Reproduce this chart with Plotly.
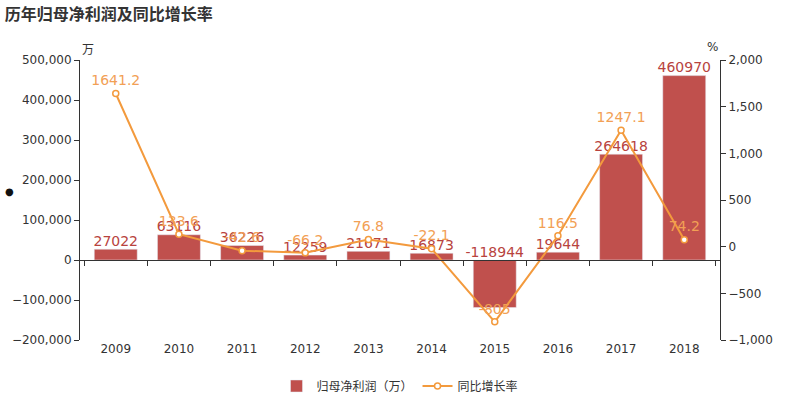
import plotly.graph_objects as go

years = ["2009", "2010", "2011", "2012", "2013", "2014", "2015", "2016", "2017", "2018"]
profit = [27022, 63116, 36226, 12259, 21671, 16873, -118944, 19644, 264618, 460970]
growth = [1641.2, 133.6, -42.6, -66.2, 76.8, -22.1, -805, 116.5, 1247.1, 74.2]
left_ticks = [-200000, -100000, 0, 100000, 200000, 300000, 400000, 500000]
right_ticks = [-1000, -500, 0, 500, 1000, 1500, 2000]

BAR = "#c0504d"
LINE = "#f39a3d"
FONT = "DejaVu Sans, Noto Sans CJK SC, sans-serif"
CJK = "Noto Sans CJK SC, sans-serif"

fig = go.Figure()
fig.add_trace(go.Bar(x=years, y=profit, name="归母净利润（万）", marker_color=BAR,
                     width=0.68, yaxis="y", hoverinfo="skip"))
fig.add_trace(go.Scatter(x=years, y=[max(v, 0) for v in profit], mode="text",
                         text=[str(v) for v in profit], textposition="top center",
                         textfont=dict(color="#b8433e", size=14, family=FONT),
                         showlegend=False, yaxis="y", hoverinfo="skip"))
fig.add_trace(go.Scatter(x=years, y=growth, name="同比增长率", mode="lines+markers+text",
                         line=dict(color=LINE, width=2),
                         marker=dict(size=6, color="white", line=dict(color=LINE, width=1.5)),
                         text=[str(v) for v in growth], textposition="top center",
                         textfont=dict(color="#f2a055", size=14, family=FONT),
                         yaxis="y2", hoverinfo="skip"))
# invisible trace for zero-level x axis with boundary ticks
fig.add_trace(go.Scatter(x=years, y=[0] * len(years), mode="markers", marker=dict(opacity=0),
                         xaxis="x2", yaxis="y", showlegend=False, hoverinfo="skip"))

ymin, ymax = -200000, 500000
fig.update_layout(
    width=800, height=400,
    margin=dict(l=80, r=80, t=60, b=60, autoexpand=False),
    plot_bgcolor="white", paper_bgcolor="white",
    font=dict(family=FONT, size=12, color="#333"),
    title=dict(text="<b>历年归母净利润及同比增长率</b>", x=0.006, xanchor="left", y=0.978, yanchor="top",
               font=dict(size=16, color="#333", family=CJK)),
    xaxis=dict(type="category", showline=False, ticks="", showgrid=False, zeroline=False,
               tickfont=dict(size=12, color="#333"), domain=[0, 1]),
    xaxis2=dict(type="category", overlaying="x", anchor="free", position=(0 - ymin) / (ymax - ymin),
                showline=True, linecolor="#333", linewidth=1, ticks="outside", ticklen=5,
                tickcolor="#333", tickson="boundaries", showticklabels=False, showgrid=False,
                matches="x"),
    yaxis=dict(range=[ymin, ymax], tickvals=left_ticks, tickformat=",", showline=True,
               linecolor="#333", ticks="outside", ticklen=5, tickcolor="#333",
               showgrid=False, zeroline=False, tickfont=dict(size=12, color="#333")),
    yaxis2=dict(range=[-1000, 2000], tickvals=right_ticks, tickformat=",", overlaying="y",
                side="right", showline=True, linecolor="#333", ticks="outside", ticklen=5,
                tickcolor="#333", showgrid=False, zeroline=False,
                tickfont=dict(size=12, color="#333")),
    legend=dict(orientation="h", x=0.5, xanchor="center", yref="container", y=0.035, yanchor="middle",
                font=dict(size=12, color="#333", family=CJK)),
)
fig.add_annotation(text="万", xref="paper", yref="paper", x=0, y=1, yshift=22,
                   showarrow=False, font=dict(size=12, color="#333", family=CJK))
fig.add_annotation(text="%", xref="paper", yref="paper", x=1, y=1, yshift=22,
                   showarrow=False, font=dict(size=12, color="#333"))
fig.add_annotation(text="●", xref="paper", yref="paper", x=-0.12, y=0.53,
                   showarrow=False, font=dict(size=10, color="#111"))

fig.write_html("out.html")
